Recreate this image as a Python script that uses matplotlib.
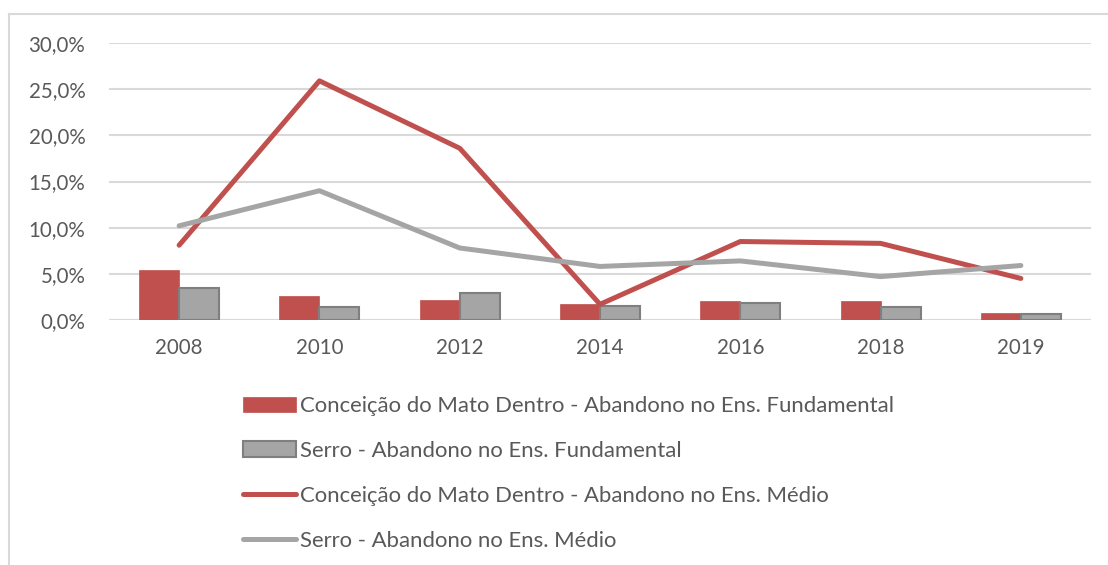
import matplotlib
matplotlib.use("Agg")
import matplotlib.pyplot as plt
from matplotlib.lines import Line2D
import numpy as np

years = ["2008", "2010", "2012", "2014", "2016", "2018", "2019"]
cmd_fund = [5.4, 2.6, 2.2, 1.7, 2.1, 2.1, 0.8]
serro_fund = [3.5, 1.45, 2.9, 1.5, 1.8, 1.45, 0.65]
cmd_medio = [8.1, 25.9, 18.6, 1.7, 8.5, 8.3, 4.5]
serro_medio = [10.2, 14.0, 7.8, 5.8, 6.4, 4.7, 5.9]
labels = [
    "Conceição do Mato Dentro - Abandono no Ens. Fundamental",
    "Serro - Abandono no Ens. Fundamental",
    "Conceição do Mato Dentro - Abandono no Ens. Médio",
    "Serro - Abandono no Ens. Médio",
]
yticks = [0, 5, 10, 15, 20, 25, 30]

RED = "#C0504D"
GRAY = "#A5A5A5"
GRAY_EDGE = "#7F7F7F"
GRID = "#D9D9D9"
TXT = "#595959"

plt.rcParams['font.family'] = ['Lato', 'DejaVu Sans']
FS = 14.8
LFS = 15.9

W, H = 1108, 565
fig = plt.figure(figsize=(W / 100, H / 100), dpi=100)
ax = fig.add_axes([109 / W, 1 - 320 / H, (1091 - 109) / W, (320 - 43) / H])

x = np.arange(len(years))
bw = 0.285
b1 = ax.bar(x - bw / 2, cmd_fund, bw, color=RED, edgecolor=RED, linewidth=0.5, zorder=3, label=labels[0])
b2 = ax.bar(x + bw / 2, serro_fund, bw, color=GRAY, edgecolor=GRAY_EDGE, linewidth=1.5, zorder=3, label=labels[1])
l1, = ax.plot(x, cmd_medio, color=RED, lw=3.6, zorder=4, solid_capstyle='round', solid_joinstyle='round', label=labels[2])
l2, = ax.plot(x, serro_medio, color=GRAY, lw=3.6, zorder=4, solid_capstyle='round', solid_joinstyle='round', label=labels[3])

ax.set_xlim(-0.5, len(years) - 0.5)
ax.set_ylim(0, 30)
ax.set_yticks(yticks)
ax.set_yticklabels([f"{v:.1f}%".replace('.', ',') for v in yticks])
ax.set_xticks(x)
ax.set_xticklabels(years)
ax.tick_params(axis='both', length=0, labelsize=FS, colors=TXT)
ax.tick_params(axis='y', pad=17)
ax.tick_params(axis='x', pad=13)
ax.yaxis.grid(True, color=GRID, lw=1.5, zorder=0)
for s in ax.spines.values():
    s.set_visible(False)

leg = fig.legend(handles=[b1, b2, l1, l2], labels=labels,
                 loc='upper left', bbox_to_anchor=(243 / W, 1 - 396 / H),
                 frameon=False, fontsize=LFS, labelcolor=TXT,
                 handlelength=2.4, handletextpad=0.2, labelspacing=1.13,
                 borderpad=0, borderaxespad=0)

# chart frame
fig.add_artist(Line2D([9 / W, 1], [1 - 14 / H, 1 - 14 / H], color=GRID, lw=1.5, transform=fig.transFigure))
fig.add_artist(Line2D([9 / W, 9 / W], [0, 1 - 14 / H], color=GRID, lw=1.5, transform=fig.transFigure))

fig.savefig("out.png", dpi=100)
